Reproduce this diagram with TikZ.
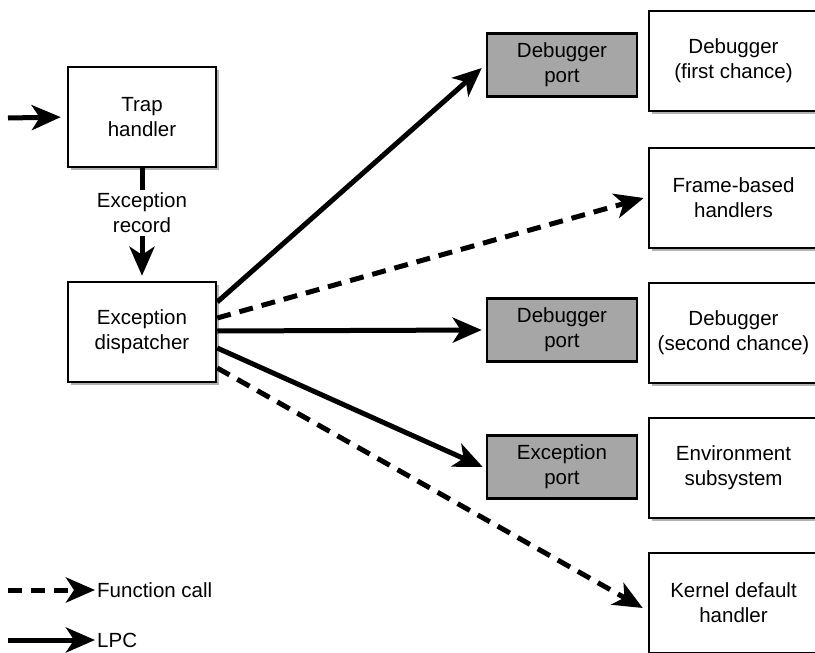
\documentclass[tikz,border=0pt]{standalone}
\usepackage{fontspec}
\setmainfont{Liberation Sans}
\usetikzlibrary{arrows.meta,shadows}

\begin{document}
\begin{tikzpicture}[x=1pt,y=-1pt,
  font=\fontsize{20.5}{25}\selectfont,
  box/.style={draw=black, line width=2.5pt, fill=white, align=center,
    minimum width=148pt, minimum height=100pt, inner sep=0pt,
    drop shadow={shadow xshift=3pt, shadow yshift=-3pt, fill=black!30, opacity=1}},
  sidebox/.style={box, minimum width=169pt},
  portbox/.style={draw=black, line width=2.5pt, fill=black!35, align=center,
    minimum width=150pt, minimum height=63pt, inner sep=0pt},
  tip/.style={-{Stealth[length=29pt,width=25pt,inset=8pt]}},
  lpc/.style={tip, line width=5pt},
  fcall/.style={tip, line width=5pt, dash pattern=on 14pt off 9pt}]

  \clip (0,0) rectangle (815,653);
  \fill[white] (0,0) rectangle (815,653);

  % left column
  \node[box] (trap) at (142,117) {Trap\\handler};
  \node[box] (disp) at (142,332) {Exception\\dispatcher};

  % ports
  \node[portbox] (dbg1) at (562,65)  {Debugger\\port};
  \node[portbox] (dbg2) at (562,330) {Debugger\\port};
  \node[portbox] (exc)  at (562,467) {Exception\\port};

  % right column
  \node[sidebox] (first)  at (733.5,61)  {Debugger\\(first chance)};
  \node[sidebox] (frame)  at (733.5,198) {Frame-based\\handlers};
  \node[sidebox] (second) at (733.5,333) {Debugger\\(second chance)};
  \node[sidebox] (env)    at (733.5,468) {Environment\\subsystem};
  \node[sidebox] (kern)   at (733.5,603) {Kernel default\\handler};

  % incoming trap
  \coordinate (entry) at (8,118);
  \draw[lpc, shorten >=6pt] (entry) -- (trap.west);

  % trap handler to dispatcher
  \draw[lpc, shorten >=5pt] (trap.south) -- (disp.north);
  \node[fill=white, align=center, inner xsep=2pt, inner ysep=3pt] (rec) at (142,213) {Exception\\record};

  % dispatcher fan-out
  \draw[lpc] ([yshift=30pt]disp.east) -- ([xshift=-4pt,yshift=-3pt]dbg1.west);
  \draw[fcall] ([yshift=14pt]disp.east) -- ([xshift=-4pt]frame.west);
  \draw[lpc] ([yshift=1pt]disp.east) -- ([xshift=-4pt]dbg2.west);
  \draw[lpc] ([yshift=-16pt]disp.east) -- ([xshift=-3pt]exc.west);
  \draw[fcall] ([yshift=-36pt]disp.east) -- ([xshift=-5pt,yshift=-5pt]kern.west);

  % legend
  \coordinate (fa) at (8,590);
  \coordinate (fb) at (95,590);
  \coordinate (la) at (8,640);
  \coordinate (lb) at (95,640);
  \draw[fcall] (fa) -- (fb);
  \draw[lpc] (la) -- (lb);
  \node[anchor=west, inner sep=0pt] (fcl) at (97,590) {Function call};
  \node[anchor=west, inner sep=0pt] (lpcl) at (97,640) {LPC};
\end{tikzpicture}
\end{document}
